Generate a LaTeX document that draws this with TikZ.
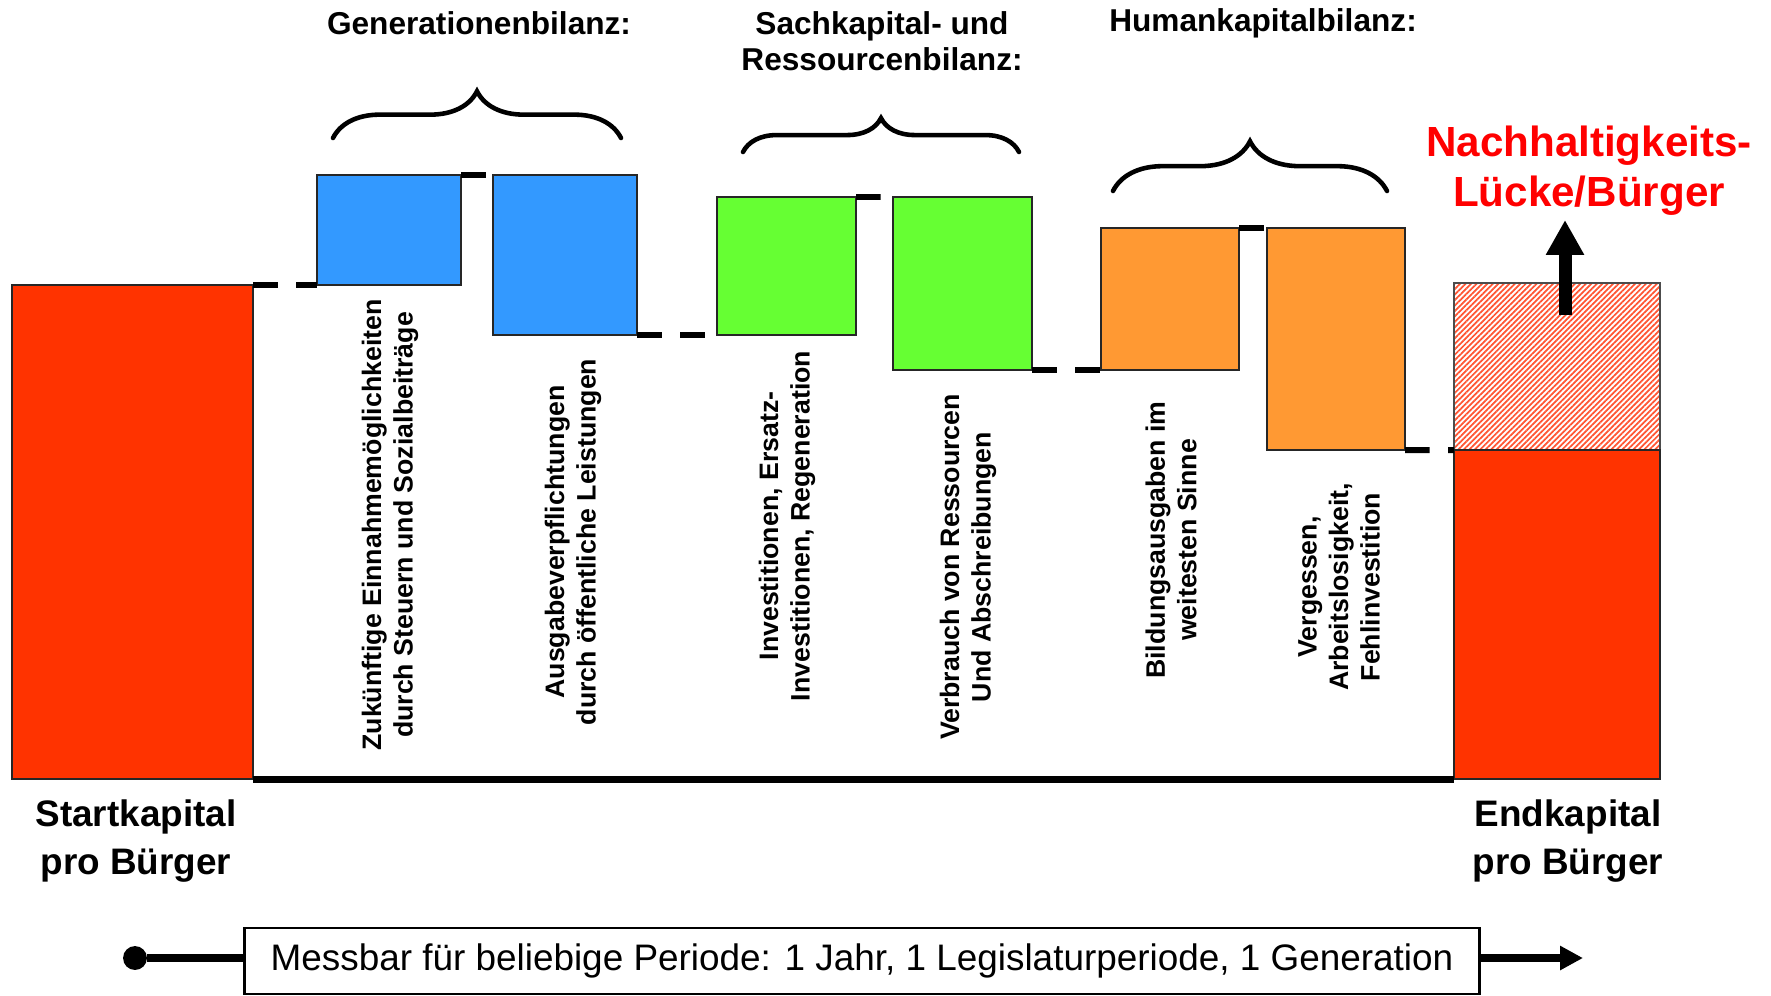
\documentclass[tikz,border=0pt]{standalone}
\usepackage{fontspec}
\setmainfont{Liberation Sans}
\usepackage{tikz}
\usetikzlibrary{arrows.meta, positioning, calc, fit, decorations.pathreplacing, patterns.meta}
\definecolor{kapitalred}{HTML}{FF3300}
\definecolor{genblue}{HTML}{3399FF}
\definecolor{sachgreen}{HTML}{66FF33}
\definecolor{humanorange}{HTML}{FF9933}
\definecolor{hatchred}{HTML}{FF5533}
\tikzset{bar/.style={rectangle,draw=black!85,line width=1.3pt,inner sep=0pt,outer sep=0pt},
         level/.style={line width=3.4pt,dash pattern=on 14pt off 10.5pt},
         bilanz/.style={decorate,decoration={brace,amplitude=#1},line width=2.6pt,line cap=round},
         heading/.style={font=\bfseries\fontsize{18}{20.4}\selectfont,align=center},
         posten/.style={rotate=90,font=\bfseries\fontsize{15.2}{17.9}\selectfont,align=center},
         kapital/.style={font=\bfseries\fontsize{21}{27}\selectfont,align=center},
         luecke/.style={text=red,font=\bfseries\fontsize{24}{28.3}\selectfont,align=center},
         lift/.style={line width=7.4pt,-{Triangle[length=19.8pt,width=20.4pt]}},
         timeline/.style={line width=5pt},
         dot/.style={circle,fill=black,minimum size=13.6pt,inner sep=0pt},
         periode/.style={rectangle,draw,line width=1.6pt,inner sep=0pt,outer sep=0pt,minimum width=24.72cm,minimum height=1.32cm,font=\fontsize{21}{25}\selectfont}}

\begin{document}
\begin{tikzpicture}[x=0.02cm,y=-0.02cm]
    \useasboundingbox (0,0) rectangle (1771,995);
    % Start and end capital
    \node (start) [bar, fill=kapitalred, fit={(12,285) (253,779)}] {};
    \node (gap) [bar, draw=black!70, pattern={Lines[angle=45,distance=2.2pt,line width=1pt]}, pattern color=hatchred, fit={(1454,283) (1660,450)}] {};
    \node (endk) [bar, fill=kapitalred, fit={(1454,450) (1660,779)}] {};
    % Balance bars
    \node (gen1) [bar, fill=genblue, fit={(317,175) (461,285)}] {};
    \node (gen2) [bar, fill=genblue, fit={(493,175) (637,335)}] {};
    \node (sach1) [bar, fill=sachgreen, fit={(717,197) (856,335)}] {};
    \node (sach2) [bar, fill=sachgreen, fit={(893,197) (1032,370)}] {};
    \node (hum1) [bar, fill=humanorange, fit={(1101,228) (1239,370)}] {};
    \node (hum2) [bar, fill=humanorange, fit={(1267,228) (1405,450)}] {};
    % Level steps
    \draw[level] (start.north east) -- (gen1.south west);
    \draw[level] (gen1.north east) -- (gen2.north west);
    \draw[level] (gen2.south east) -- (sach1.south west);
    \draw[level] (sach1.north east) -- (sach2.north west);
    \draw[level] (sach2.south east) -- (hum1.south west);
    \draw[level] (hum1.north east) -- (hum2.north west);
    \draw[level] (hum2.south east) -- (endk.north west);
    \draw[line width=4pt] (start.south east) -- (endk.south west);
    % Braces and headings
    \draw[bilanz=26.6pt] (333,138) -- (621,138);
    \draw[bilanz=19.3pt] (743,152) -- (1019,152);
    \draw[bilanz=28.3pt] (1113,191) -- (1387,191);
    \node (genh) [heading] at (479,23) {Generationenbilanz:};
    \node (sachh) [heading] at (882,41) {Sachkapital- und\\Ressourcenbilanz:};
    \node (humh) [heading] at (1263,23) {Humankapitalbilanz:};
    % Item labels
    \node (gen1t) [posten] at (390,525) {Zukünftige Einnahmemöglichkeiten\\durch Steuern und Sozialbeiträge};
    \node (gen2t) [posten] at (573,542) {Ausgabeverpflichtungen\\durch öffentliche Leistungen};
    \node (sach1t) [posten] at (787,526) {Investitionen, Ersatz-\\Investitionen, Regeneration};
    \node (sach2t) [posten] at (968,567) {Verbrauch von Ressourcen\\Und Abschreibungen};
    \node (hum1t) [posten] at (1171,540) {Bildungsausgaben im\\weitesten Sinne};
    \node (hum2t) [posten] at (1339,587) {Vergessen,\\Arbeitslosigkeit,\\Fehlinvestition};
    % Capital labels
    \node (startt) [kapital] at (136,841) {Startkapital\\pro Bürger};
    \node (endt) [kapital] at (1568,841) {Endkapital\\pro Bürger};
    \node (luecke) [luecke] at (1589,171) {Nachhaltigkeits-\\Lücke/Bürger};
    \coordinate (lueckefuss) at (1565,315);
    \coordinate (lueckespitze) at (1565,220);
    \draw[lift] (lueckefuss) -- (lueckespitze);
    % Time line
    \node (t0) [dot] at (135,958) {};
    \node (zeit) [periode] at (862,961) {Messbar für beliebige Periode: 1 Jahr, 1 Legislaturperiode, 1 Generation};
    \coordinate (t1) at (1583,958);
    \draw[timeline] (t0) -- (t0 -| zeit.west);
    \draw[timeline,-{Triangle[length=13pt,width=13pt]}] (t1 -| zeit.east) -- (t1);
\end{tikzpicture}
\end{document}
